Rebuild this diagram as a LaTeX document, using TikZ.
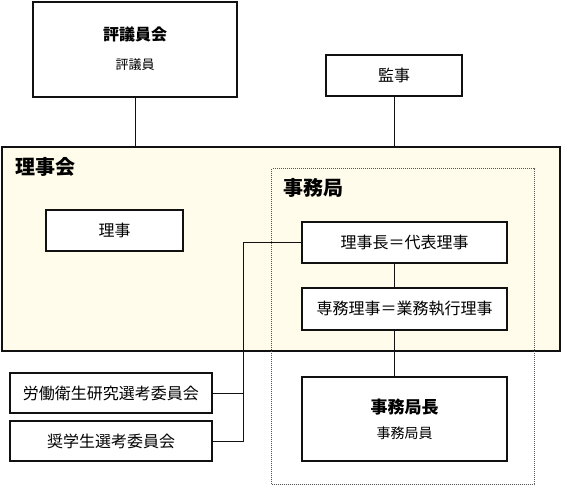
\documentclass[tikz,border=0pt]{standalone}
\usepackage{fontspec}
\setmainfont{Noto Sans CJK JP}
\usetikzlibrary{calc, positioning}
\definecolor{cboard}{HTML}{FFFCEB}
\definecolor{cdot}{HTML}{555555}
\definecolor{cbk}{HTML}{111111}

\tikzset{
    orgbox/.style={draw=cbk, line width=2pt, fill=white, inner sep=0pt, font=\fontsize{16}{19}\selectfont},
    headbox/.style={orgbox, align=center},
    link/.style={draw=cbk, line width=1pt},
}

\begin{document}
\begin{tikzpicture}[x=1pt, y=-1pt]
    \useasboundingbox (0,0) rectangle (562,485);
    % 理事会 / 事務局 frames
    \node (board) [draw=cbk, line width=2pt, fill=cboard, anchor=north west, minimum width=558, minimum height=204] at (1,146) {};
    \node (boardlbl) [anchor=west, inner sep=0pt, font=\fontsize{20}{24}\selectfont\bfseries] at (15,167) {理事会};
    \node (office) [draw=cdot, line width=1pt, dash pattern=on 1pt off 1pt, anchor=north west, minimum width=263, minimum height=316] at (271,168) {};
    \node (officelbl) [anchor=west, inner sep=0pt, font=\fontsize{20}{24}\selectfont\bfseries] at (283,188) {事務局};
    % boxes
    \node (hyo) [headbox, minimum width=204, minimum height=95] at (135,49)
        {{\bfseries 評議員会}\\[10pt]{\fontsize{13}{15}\selectfont 評議員}};
    \node (kanji) [orgbox, minimum width=136, minimum height=41] at (394,75.5) {監事};
    \node (riji) [orgbox, minimum width=137, minimum height=41] at (114.5,230.5) {理事};
    \node (rjc) [orgbox, minimum width=205, minimum height=41] at (404.5,242.5) {理事長＝代表理事};
    \node (senmu) [orgbox, minimum width=205, minimum height=42] at (404.5,309) {専務理事＝業務執行理事};
    \node (chief) [headbox, minimum width=205, minimum height=84] at (404.5,419)
        {{\fontsize{17}{20}\selectfont\bfseries 事務局長}\\[6pt]{\fontsize{14}{17}\selectfont 事務局員}};
    \node (com1) [orgbox, minimum width=202, minimum height=40] at (111,393) {労働衛生研究選考委員会};
    \node (com2) [orgbox, minimum width=202, minimum height=40] at (111,441) {奨学生選考委員会};
    \coordinate (jct) at (243,0);
    % links
    \draw[link] (hyo.south) -- (hyo.south |- board.north);
    \draw[link] (kanji.south) -- (kanji.south |- board.north);
    \draw[link] (rjc.south -| kanji) -- (senmu.north -| kanji);
    \draw[link] (senmu.south -| kanji) -- (chief.north -| kanji);
    \draw[link] (rjc.west) -| (jct |- com2.east) -- (com2.east);
    \draw[link] (com1.east) -- (com1.east -| jct);
\end{tikzpicture}
\end{document}
